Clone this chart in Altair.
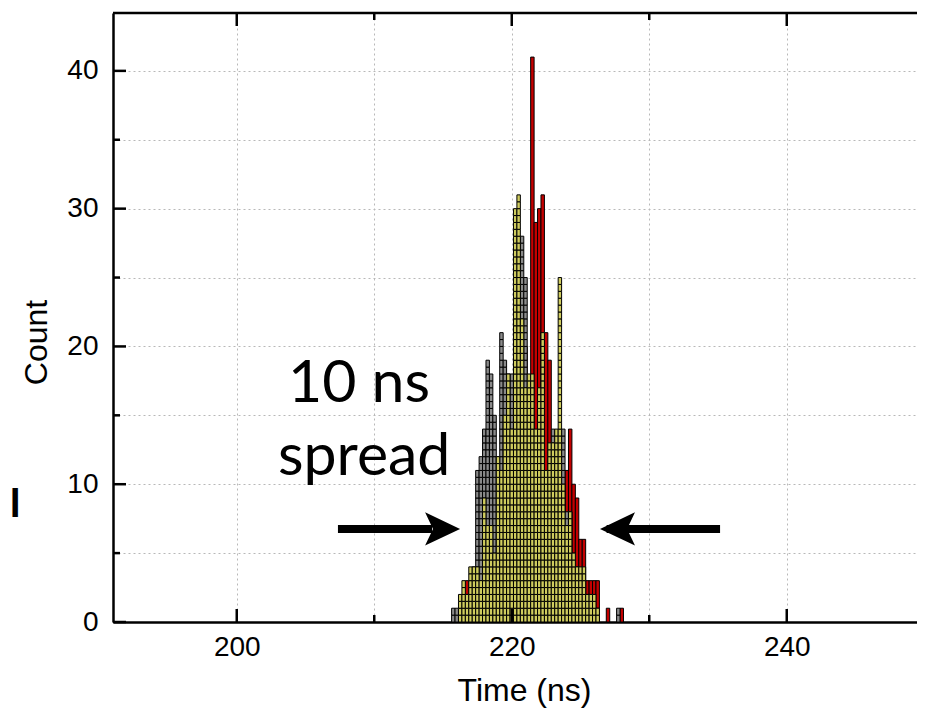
import altair as alt
import pandas as pd

# ---- data -------------------------------------------------------------
BIN_START = 215.625          # ns, left edge of first bin
BIN_WIDTH = 0.25             # ns
gray_counts = [1, 1, 0, 1, 2, 3, 4, 11, 12, 14,
               19, 18, 15, 12, 21, 19, 18, 18, 22, 24,
               28, 25, 16, 15, 13, 14, 15, 10, 11, 14,
               12, 13, 14, 8, 8, 5, 4, 3, 3, 2,
               2, 1, 1, 0, 0, 0, 0, 0, 1, 0]
yellow_counts = [0, 0, 2, 3, 2, 4, 4, 4, 3, 9,
                 7, 7, 5, 12, 11, 15, 18, 14, 30, 31,
                 22, 17, 18, 18, 14, 17, 21, 11, 13, 13,
                 14, 25, 10, 7, 8, 5, 4, 4, 4, 2,
                 2, 2, 1, 0, 0, 0, 0, 0, 0, 0]
red_counts = [0, 0, 1, 2, 3, 2, 3, 3, 4, 5,
              6, 7, 8, 9, 10, 12, 14, 15, 18, 20,
              22, 20, 17, 41, 29, 30, 31, 21, 19, 12,
              13, 12, 9, 11, 14, 10, 9, 6, 6, 3,
              3, 3, 3, 0, 0, 1, 0, 0, 0, 1]
CELL = 0.5                   # height of one drawn cell (counts)

x_major = [200, 220, 240]
x_minor = [210, 230]
x_grid = [200, 210, 220, 230, 240]
y_major = [0, 10, 20, 30, 40]
y_minor = [5, 15, 25, 35]
y_grid = [0, 5, 10, 15, 20, 25, 30, 35, 40]

W, H = 804, 609
PX_PER_NS = 13.75
X_DOMAIN = [191, 191 + W / PX_PER_NS]
Y_DOMAIN = [0, 44.2]

# ---- tables -----------------------------------------------------------
def bin_edges(k):
    return BIN_START + k * BIN_WIDTH, BIN_START + (k + 1) * BIN_WIDTH

red_rows = []
for k, c in enumerate(red_counts):
    if c > 0:
        a, b = bin_edges(k)
        red_rows.append({"x": a, "x2": b, "y": 0, "y2": c})
red_df = pd.DataFrame(red_rows)

def cells(counts):
    rows = []
    for k, c in enumerate(counts):
        a, b = bin_edges(k)
        n = int(round(c / CELL))
        for j in range(n):
            rows.append({"x": a, "x2": b, "y": j * CELL, "y2": (j + 1) * CELL})
    return pd.DataFrame(rows)

gray_df = cells(gray_counts)
yellow_df = cells(yellow_counts)

xs = alt.Scale(domain=X_DOMAIN, nice=False, zero=False)
ys = alt.Scale(domain=Y_DOMAIN, nice=False, zero=True)

AX = alt.Axis(
    values=x_grid,
    labelExpr="datum.value % 20 == 0 ? datum.label : ''",
    title="Time (ns)", grid=True, ticks=False, tickSize=0,
    labelPadding=11, titleX=411, titleY=78,
    titleBaseline="alphabetic", titleAlign="center")
AY = alt.Axis(
    values=y_grid,
    labelExpr="datum.value % 10 == 0 ? datum.label : ''",
    title="Count", grid=True, ticks=False, tickSize=0,
    labelPadding=15, titleAngle=270, titleX=-67, titleY=329,
    titleBaseline="alphabetic", titleAlign="center")

def X(f):
    return alt.X(f, scale=xs, axis=AX)

def Y(f):
    return alt.Y(f, scale=ys, axis=AY)

# ---- histogram layers ---------------------------------------------------
red = alt.Chart(red_df).mark_rect(fill="#c40000", stroke="black", strokeWidth=1).encode(
    x=X("x:Q"), x2="x2:Q", y=Y("y:Q"), y2="y2:Q")

gray = alt.Chart(gray_df).mark_rect(fill="#8a8a8a", stroke="#000000", strokeWidth=1).encode(
    x=X("x:Q"), x2="x2:Q", y=Y("y:Q"), y2="y2:Q")

yellow = alt.Chart(yellow_df).mark_rect(fill="#cfcc5e", stroke="#000000", strokeWidth=1).encode(
    x=X("x:Q"), x2="x2:Q", y=Y("y:Q"), y2="y2:Q")

# ---- frame / inward ticks ----------------------------------------------
TW = 2.5
def xticks(vals, y0, y1):
    return alt.Chart(pd.DataFrame({"v": vals})).mark_rule(color="black", strokeWidth=TW).encode(
        x=X("v:Q"), y=alt.value(y0), y2=alt.value(y1))

def yticks(vals, x0, x1):
    return alt.Chart(pd.DataFrame({"v": vals})).mark_rule(color="black", strokeWidth=TW).encode(
        y=Y("v:Q"), x=alt.value(x0), x2=alt.value(x1))

ticks = [
    xticks(x_major, H, H - 13), xticks(x_minor, H, H - 7),
    xticks(x_major, 0, 13), xticks(x_minor, 0, 7),
    yticks(y_major, 0, 13), yticks(y_minor, 0, 7),
]
top_border = alt.Chart(pd.DataFrame({"a": [0]})).mark_rule(color="black", strokeWidth=TW).encode(
    x=alt.value(0), x2=alt.value(W), y=alt.value(0))

# ---- annotation ----------------------------------------------------------
ann_text = pd.DataFrame({
    "x": [203.73, 203.0],
    "y": [16.0, 10.67],
    "t": ["10 ns", "spread"],
})
ann = alt.Chart(ann_text).mark_text(font="Lato", fontSize=59, align="left",
                                    baseline="alphabetic", color="black").encode(
    x=X("x:Q"), y=Y("y:Q"), text="t:N")

stray = alt.Chart(pd.DataFrame({"x": [183.45], "y": [7.63], "t": ["I"]})).mark_text(
    font="Lato", fontSize=40, fontWeight="bold", align="left", baseline="alphabetic",
    color="black").encode(x=X("x:Q"), y=Y("y:Q"), text="t:N")

shafts = alt.Chart(pd.DataFrame({
    "x": [207.36, 226.9], "x2": [214.2, 235.15], "y": [6.75, 6.75]})).mark_rule(
    color="black", strokeWidth=8).encode(x=X("x:Q"), x2="x2:Q", y=Y("y:Q"))

head_r = alt.Chart(pd.DataFrame({"x": [214.97], "y": [6.75]})).mark_point(
    shape="M 1 0 L -1 -0.95 L -0.55 0 L -1 0.95 Z", size=1225, filled=True,
    fill="black", opacity=1).encode(x=X("x:Q"), y=Y("y:Q"))

head_l = alt.Chart(pd.DataFrame({"x": [227.69], "y": [6.75]})).mark_point(
    shape="M -1 0 L 1 -0.95 L 0.55 0 L 1 0.95 Z", size=1225, filled=True,
    fill="black", opacity=1).encode(x=X("x:Q"), y=Y("y:Q"))

chart = alt.layer(red, gray, yellow, *ticks, top_border, ann, stray, shafts, head_r, head_l).properties(
    width=W, height=H,
    autosize=alt.AutoSizeParams(type="none"),
    padding={"left": 105, "top": 5, "right": 0, "bottom": 87},
    background="white",
).configure_view(stroke=None).configure_axis(
    labelFont="Liberation Sans", labelFontSize=28, labelColor="black",
    titleFont="Liberation Sans", titleFontSize=32, titleFontWeight="normal", titleColor="black",
    domainColor="black", domainWidth=2.5,
    gridColor="#b8b8b8", gridDash=[2, 3], gridWidth=1,
)

chart.save("out.html", embed_options={"renderer": "svg", "actions": False})
